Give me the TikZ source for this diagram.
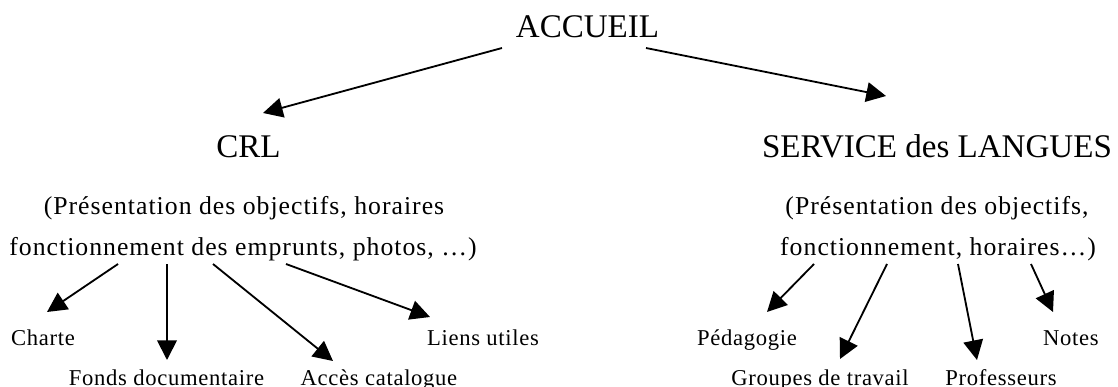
\documentclass[tikz,border=0pt]{standalone}
\usepackage{fontspec}
\setmainfont{Liberation Serif}
\newfontfamily\espaceA[LetterSpace=3.9]{Liberation Serif}
\newfontfamily\espaceB[LetterSpace=3.0]{Liberation Serif}
\usetikzlibrary{arrows.meta}

\begin{document}
\begin{tikzpicture}[x=0.025cm,y=-0.025cm,
  >={Triangle[length=14pt,width=14pt]}, line width=1.3pt,
  titre/.style={anchor=base, inner sep=0pt, font=\fontsize{23.5}{28}\selectfont},
  texte/.style={anchor=base, inner sep=0pt, font=\espaceA\fontsize{18.3}{22}\selectfont},
  rubrique/.style={anchor=base, inner sep=0pt, font=\espaceB\fontsize{16.1}{19}\selectfont}]

\useasboundingbox (0,0) rectangle (1118,387);

\node[titre] (accueil) at (587.5,38) {ACCUEIL};
\node[titre] (crl) at (248.5,157) {CRL};
\node[titre] (service) at (937,157) {SERVICE des LANGUES};

\node[texte] (crl1) at (244,214) {(Présentation des objectifs, horaires};
\node[texte] (crl2) at (243,255) {fonctionnement des emprunts, photos, …)};
\node[texte] (sl1) at (937,214) {(Présentation des objectifs,};
\node[texte] (sl2) at (938,255) {fonctionnement, horaires…)};

\node[rubrique] (charte) at (43,345) {Charte};
\node[rubrique] (fonds) at (166.5,385) {Fonds documentaire};
\node[rubrique] (acces) at (379,385) {Accès catalogue};
\node[rubrique] (liens) at (483,345) {Liens utiles};
\node[rubrique] (peda) at (747,345) {Pédagogie};
\node[rubrique] (groupes) at (820,385) {Groupes de travail};
\node[rubrique] (profs) at (1001,385) {Professeurs};
\node[rubrique] (notes) at (1071,345) {Notes};

\node[coordinate] (v1) at (502,48) {};
\node[coordinate] (v2) at (263,113) {};
\node[coordinate] (v3) at (646,48) {};
\node[coordinate] (v4) at (886,96) {};
\node[coordinate] (v5) at (118,264) {};
\node[coordinate] (v6) at (47,312) {};
\node[coordinate] (v7) at (167,264) {};
\node[coordinate] (v8) at (167,360) {};
\node[coordinate] (v9) at (213,264) {};
\node[coordinate] (v10) at (333,361) {};
\node[coordinate] (v11) at (286,264) {};
\node[coordinate] (v12) at (430,317) {};
\node[coordinate] (v13) at (814,264) {};
\node[coordinate] (v14) at (767,312) {};
\node[coordinate] (v15) at (887,264) {};
\node[coordinate] (v16) at (840,359) {};
\node[coordinate] (v17) at (958,264) {};
\node[coordinate] (v18) at (977,360) {};
\node[coordinate] (v19) at (1031,264) {};
\node[coordinate] (v20) at (1053,312) {};

\draw [->] (v1)--(v2);
\draw [->] (v3)--(v4);
\draw [->] (v5)--(v6);
\draw [->] (v7)--(v8);
\draw [->] (v9)--(v10);
\draw [->] (v11)--(v12);
\draw [->] (v13)--(v14);
\draw [->] (v15)--(v16);
\draw [->] (v17)--(v18);
\draw [->] (v19)--(v20);

\end{tikzpicture}
\end{document}
